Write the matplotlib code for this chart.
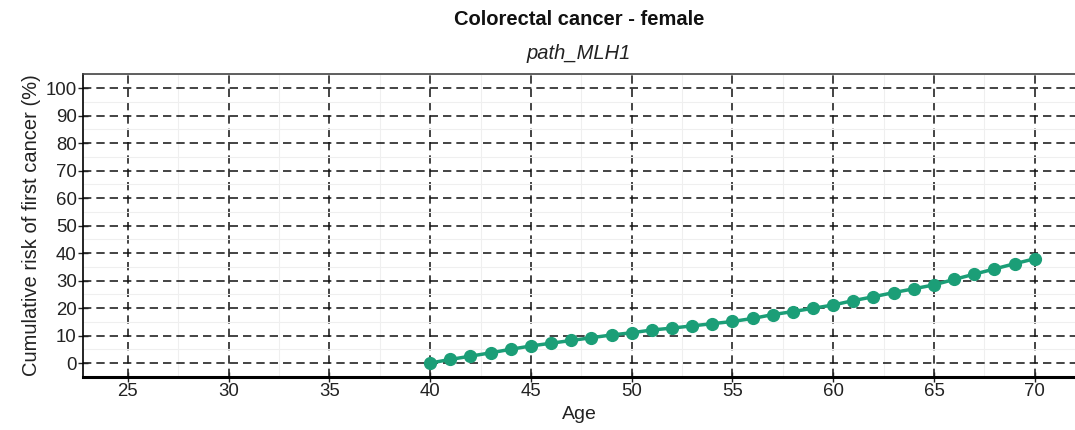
import matplotlib
matplotlib.use("Agg")
import matplotlib.pyplot as plt
from matplotlib.ticker import MultipleLocator

plt.rcParams['font.family'] = ['Liberation Sans', 'DejaVu Sans']
plt.rcParams['lines.scale_dashes'] = False

# data
ages = list(range(40, 71))
risk = [0.0, 1.3, 2.5, 3.7, 5.0, 6.2, 7.2, 8.2, 9.2, 10.2,
        11.0, 12.0, 12.7, 13.5, 14.3, 15.1, 16.2, 17.6, 18.7, 19.9,
        21.1, 22.7, 24.1, 25.6, 27.0, 28.4, 30.4, 32.3, 34.2, 36.1, 37.9]
x_ticks = [25, 30, 35, 40, 45, 50, 55, 60, 65, 70]
y_ticks = [0, 10, 20, 30, 40, 50, 60, 70, 80, 90, 100]
line_color = "#1b9e77"

fig = plt.figure(figsize=(10.75, 4.3), dpi=100)
ax = fig.add_axes([0.0772, 0.1238, 0.9228, 0.7035])

ax.plot(ages, risk, color=line_color, lw=2.5, marker='o', ms=8.5, zorder=3)

ax.set_xlim(22.77, 72.0)
ax.set_ylim(-5, 105)
ax.set_xticks(x_ticks)
ax.set_yticks(y_ticks)
ax.xaxis.set_minor_locator(MultipleLocator(2.5))
ax.yaxis.set_minor_locator(MultipleLocator(5))

ax.grid(which='major', color='#111111', lw=1.1, linestyle=(0, (6.0, 3.6)), zorder=1)
ax.grid(which='minor', color='#efefef', lw=0.8, linestyle='-', zorder=0)
ax.set_axisbelow(True)

ax.tick_params(axis='both', which='major', direction='inout', length=7, width=1,
               labelsize=13.4, colors='#222222', labelcolor='#222222')
ax.tick_params(axis='both', which='minor', length=0)
ax.tick_params(axis='x', pad=1)
ax.tick_params(axis='y', pad=1)

ax.spines['right'].set_visible(False)
ax.spines['top'].set_color('#444444')
ax.spines['top'].set_linewidth(1.2)
ax.spines['left'].set_color('black')
ax.spines['left'].set_linewidth(1.2)
ax.spines['bottom'].set_color('black')
ax.spines['bottom'].set_linewidth(2.2)

ax.set_xlabel("Age", fontsize=14, color='#222222', labelpad=4)
ax.set_ylabel("Cumulative risk of first cancer (%)", fontsize=14.5, color='#222222', labelpad=3)

fig.text(0.5386, 0.955, "Colorectal cancer - female", ha='center', va='center',
         fontsize=14.5, fontweight='bold', color='#111111')
fig.text(0.5386, 0.875, "path_MLH1", ha='center', va='center',
         fontsize=14.5, fontstyle='italic', color='#222222')

fig.savefig("out.png", dpi=100)
